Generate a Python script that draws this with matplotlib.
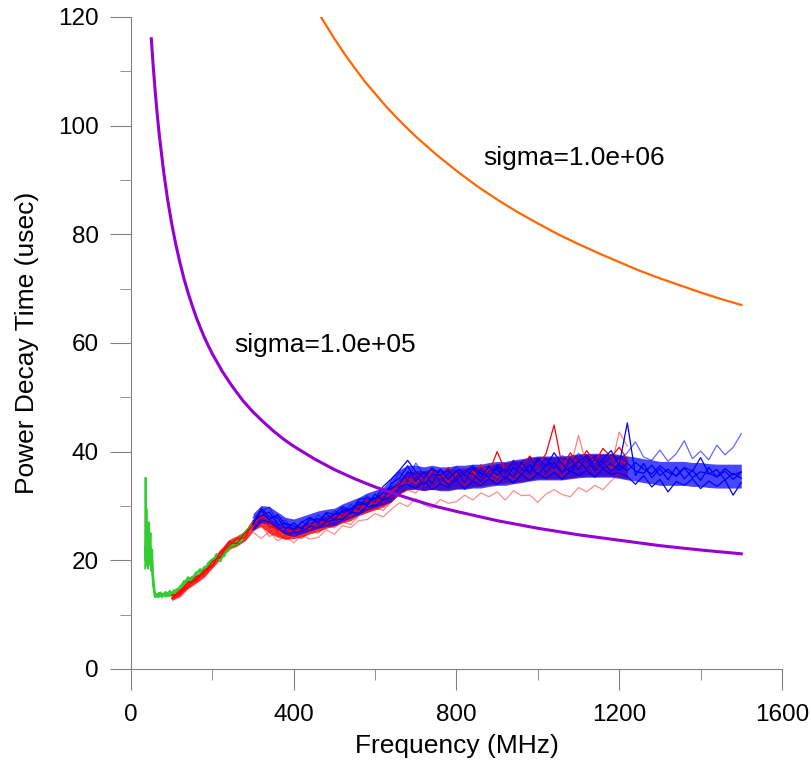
import matplotlib
matplotlib.use('Agg')
import matplotlib.pyplot as plt
import numpy as np

plt.rcParams['font.family'] = ['Liberation Sans', 'DejaVu Sans']

# model curves
purple_f = [50, 55, 60, 65, 70, 80, 90, 100, 110, 120, 130, 140, 150, 160, 170, 180,
            190, 200, 225, 250, 275, 300, 325, 350, 375, 400, 450, 500, 550, 600, 650,
            700, 750, 800, 900, 1000, 1100, 1200, 1300, 1400, 1500]
purple_tau = [116.0, 110.6, 105.9, 101.7, 98.0, 91.7, 86.4, 82.0, 78.2, 74.9, 71.9,
              69.3, 67.0, 64.8, 62.9, 61.1, 59.5, 58.0, 54.7, 51.9, 49.4, 47.3, 45.5,
              43.8, 42.3, 41.0, 38.7, 36.7, 35.0, 33.5, 32.2, 31.0, 29.9, 29.0, 27.3,
              25.9, 24.7, 23.7, 22.7, 21.9, 21.2]
orange_f = [467, 480, 500, 525, 550, 575, 600, 625, 650, 675, 700, 750, 800, 850, 900,
            950, 1000, 1050, 1100, 1150, 1200, 1250, 1300, 1350, 1400, 1450, 1500]
orange_tau = [120.0, 118.4, 116.0, 113.2, 110.6, 108.1, 105.9, 103.7, 101.7, 99.8,
              98.0, 94.7, 91.7, 88.9, 86.4, 84.1, 82.0, 80.0, 78.2, 76.5, 74.9, 73.3,
              71.9, 70.6, 69.3, 68.1, 67.0]

# green measurements
green_f = [35, 36, 37, 38, 39, 40, 42, 44, 46, 48, 50, 52, 54, 56, 58, 60, 64, 68, 72,
           76, 80, 85, 90, 95, 100, 105, 110, 120, 130, 140, 150, 160, 170, 180, 190,
           200, 210, 220, 230, 240, 250, 260, 270, 280, 290, 300]
green_1 = [20.0, 35.2, 21.5, 29.5, 22.0, 26.5, 21.0, 27.0, 22.5, 25.0, 19.0, 22.0, 17.5,
           16.0, 14.5, 13.6, 13.3, 14.0, 13.4, 13.9, 13.5, 14.2, 13.7, 14.4, 13.9, 14.5,
           14.0, 15.2, 15.8, 16.6, 16.2, 17.5, 18.4, 17.8, 19.6, 20.2, 20.6, 19.8, 21.6,
           22.4, 23.5, 22.6, 24.4, 25.2, 26.0, 27.0]
green_2 = [18.5, 24.0, 28.5, 19.5, 25.5, 20.0, 24.5, 19.5, 23.5, 19.0, 21.5, 18.0, 16.5,
           14.5, 13.5, 13.2, 13.8, 13.2, 13.8, 13.2, 13.9, 13.3, 14.0, 13.4, 14.1, 13.6,
           14.6, 14.8, 16.2, 16.0, 17.0, 17.0, 17.6, 18.8, 19.0, 19.5, 21.2, 20.5, 20.8,
           22.8, 22.4, 23.4, 23.8, 24.6, 25.6, 26.4]
green_3 = [22.5, 20.5, 25.0, 23.5, 19.0, 23.0, 18.5, 22.5, 19.5, 22.0, 18.0, 19.5, 15.5,
           15.0, 14.0, 13.9, 13.5, 13.6, 14.1, 13.5, 13.6, 13.9, 13.4, 13.8, 13.5, 14.2,
           14.3, 15.0, 15.5, 16.9, 16.5, 17.8, 18.0, 18.2, 19.3, 19.8, 20.0, 21.0, 21.3,
           21.8, 23.0, 23.8, 23.2, 24.9, 25.4, 26.8]

# red measurements, 100..1220 MHz every 20 MHz
red_f = np.arange(100, 1221, 20)
red_lo = [12.6, 13.3, 14.8, 15.8, 16.9, 18.6, 20.2, 22.0, 22.6, 23.6,
          25.5, 26.2, 25.0, 24.3, 23.9, 24.0, 24.3, 24.9, 25.3, 25.9,
          26.3, 26.9, 27.3, 28.3, 28.8, 29.3, 29.8, 30.8, 32.2, 33.0,
          33.1, 32.9, 33.1, 33.0, 33.0, 33.2, 33.3, 33.5, 33.6, 33.9,
          34.0, 34.2, 34.3, 34.5, 34.8, 35.0, 35.0, 35.0, 35.0, 35.2,
          35.4, 35.5, 35.5, 35.5, 35.5, 35.3, 35.0]
red_hi = [14.0, 14.8, 16.3, 17.3, 18.5, 20.4, 22.0, 23.8, 24.5, 25.4,
          27.6, 28.7, 27.8, 26.8, 26.3, 26.1, 26.6, 27.1, 27.7, 28.2,
          28.7, 29.3, 29.8, 30.8, 31.4, 31.8, 32.3, 33.4, 35.0, 36.2,
          36.5, 36.5, 36.8, 36.6, 36.6, 36.9, 37.0, 37.2, 37.3, 37.6,
          37.8, 38.0, 38.2, 38.5, 38.8, 39.0, 39.0, 39.0, 39.0, 39.2,
          39.4, 39.5, 39.5, 39.5, 39.5, 39.3, 39.0]
red_a = [13.0, 14.2, 15.9, 16.3, 18.2, 19.0, 21.4, 22.6, 23.9, 24.2,
         26.9, 27.9, 26.2, 26.0, 24.8, 25.6, 25.2, 26.6, 26.1, 27.4,
         27.2, 28.5, 28.1, 30.0, 29.6, 31.2, 30.8, 32.6, 33.8, 35.2,
         34.1, 35.8, 34.6, 36.0, 34.4, 35.9, 34.7, 36.4, 35.1, 36.6,
         35.3, 37.0, 35.6, 37.4, 36.0, 38.2, 36.4, 37.9, 36.6, 38.3,
         36.8, 38.6, 37.0, 38.2, 36.9, 38.4, 37.6]
red_b = [13.6, 13.8, 15.2, 17.0, 17.6, 19.8, 20.6, 23.4, 23.1, 25.0,
         26.2, 28.4, 27.0, 25.4, 25.9, 24.9, 26.3, 25.8, 27.2, 26.7,
         28.3, 27.8, 29.3, 28.9, 31.0, 30.4, 32.1, 31.6, 34.4, 33.9,
         35.9, 34.3, 36.5, 35.3, 37.1, 35.0, 36.8, 35.5, 37.6, 36.2,
         40.0, 36.5, 38.4, 36.9, 39.2, 37.4, 39.6, 44.9, 37.2, 39.8,
         37.6, 40.2, 38.0, 40.6, 39.0, 40.8, 38.6]
red_c = [13.2, 14.5, 15.0, 16.8, 17.2, 19.2, 20.8, 22.2, 22.8, 23.6,
         25.2, 24.0, 25.3, 23.6, 24.4, 23.2, 24.6, 23.9, 24.2, 25.6,
         24.8, 26.4, 26.0, 27.3, 27.5, 28.6, 28.0, 29.4, 30.6, 29.9,
         31.4, 30.2, 29.6, 31.2, 30.5, 30.8, 32.0, 31.1, 32.4, 31.7,
         32.6, 31.1, 32.8, 31.9, 32.0, 30.7, 32.2, 33.0, 32.1, 31.7,
         33.4, 32.6, 33.8, 33.0, 34.6, 36.0, 35.2]
red_d = [12.9, 13.6, 16.1, 16.0, 18.0, 18.8, 21.8, 22.9, 24.1, 24.8,
         27.3, 26.4, 24.4, 25.1, 23.8, 24.6, 24.0, 25.4, 25.0, 26.3,
         26.0, 27.1, 26.6, 28.2, 28.8, 29.6, 29.2, 30.7, 32.2, 33.0,
         32.4, 34.0, 33.2, 34.6, 33.5, 34.8, 33.8, 35.2, 34.1, 35.6,
         34.4, 35.9, 34.8, 36.3, 35.1, 36.6, 35.2, 36.8, 35.6, 37.0,
         43.0, 37.4, 36.2, 37.8, 37.0, 43.6, 41.0]

# blue measurements, 300..1500 MHz every 20 MHz
blue_f = np.arange(300, 1501, 20)
blue_lo = [25.4, 26.9, 26.7, 25.7, 24.7, 24.4, 24.9, 25.4, 25.9, 26.2,
           26.4, 27.2, 27.8, 28.4, 29.2, 29.7, 30.2, 30.8, 32.3, 33.1,
           33.1, 32.8, 33.1, 32.8, 32.8, 33.1, 33.1, 33.3, 33.3, 33.6,
           33.8, 33.8, 34.1, 34.3, 34.6, 34.8, 34.8, 34.8, 34.8, 35.0,
           35.2, 35.3, 35.3, 35.3, 35.3, 35.1, 34.8, 34.6, 34.3, 34.1,
           33.8, 33.8, 33.8, 33.8, 33.6, 33.6, 33.4, 33.3, 33.3, 33.3,
           33.3]
blue_hi = [28.6, 30.1, 29.9, 28.9, 27.9, 27.6, 28.1, 28.6, 29.1, 29.4,
           29.6, 30.4, 31.0, 31.6, 32.4, 32.9, 33.4, 35.2, 36.7, 37.5,
           37.5, 37.2, 37.5, 37.2, 37.2, 37.5, 37.5, 37.7, 37.7, 38.0,
           38.2, 38.2, 38.5, 38.7, 39.0, 39.2, 39.2, 39.2, 39.2, 39.4,
           39.6, 39.7, 39.7, 39.7, 39.7, 39.5, 39.2, 39.0, 38.7, 38.5,
           38.2, 38.2, 38.2, 38.2, 38.0, 38.0, 37.8, 37.7, 37.7, 37.7,
           37.7]
blue_1 = [26.5, 29.6, 28.0, 27.9, 25.8, 26.9, 25.7, 27.8, 26.9, 28.6,
          27.3, 29.5, 28.7, 30.8, 30.1, 32.2, 31.0, 34.2, 35.1, 37.4,
          34.6, 36.3, 34.2, 36.8, 34.9, 36.5, 34.4, 37.0, 35.2, 37.3,
          35.6, 36.9, 35.4, 38.1, 36.0, 38.4, 36.2, 37.9, 36.1, 38.6,
          36.7, 38.9, 36.3, 38.2, 36.4, 37.6, 45.3, 35.6, 37.8, 35.2,
          36.9, 34.8, 37.2, 35.0, 36.6, 34.7, 37.1, 35.3, 36.4, 34.9,
          36.2]
blue_2 = [27.8, 28.9, 29.8, 27.0, 27.4, 25.3, 27.2, 26.1, 28.4, 27.0,
          29.1, 28.2, 30.3, 29.4, 31.9, 30.6, 32.8, 33.6, 36.2, 34.8,
          37.9, 35.7, 36.8, 34.3, 36.1, 37.2, 35.8, 34.6, 36.8, 35.1,
          37.6, 35.8, 37.9, 36.6, 39.0, 37.4, 38.8, 36.9, 39.3, 37.8,
          39.7, 38.0, 39.1, 37.6, 39.4, 38.6, 39.8, 41.8, 39.0, 38.4,
          40.3, 38.2, 39.6, 42.0, 38.7, 40.1, 38.5, 41.2, 39.4, 40.8,
          43.3]
blue_3 = [25.6, 27.4, 27.1, 26.0, 24.9, 25.1, 25.3, 26.3, 26.0, 27.1,
          27.5, 27.6, 28.9, 28.6, 29.9, 30.0, 31.1, 31.8, 33.6, 34.0,
          33.2, 34.6, 33.0, 34.1, 33.4, 34.8, 33.1, 34.5, 33.8, 35.0,
          34.0, 35.4, 34.2, 35.9, 34.7, 36.0, 35.1, 36.2, 34.9, 36.5,
          35.6, 36.6, 35.3, 36.8, 35.8, 36.1, 35.4, 34.0, 35.6, 33.5,
          34.9, 32.6, 34.5, 33.8, 35.0, 33.2, 34.6, 33.6, 34.8, 32.0,
          34.3]
blue_4 = [27.2, 28.2, 28.9, 26.6, 26.8, 26.3, 26.0, 27.4, 27.6, 27.4,
          28.4, 29.0, 29.5, 30.2, 30.6, 31.5, 32.4, 33.3, 34.0, 36.3,
          35.8, 33.9, 35.8, 35.6, 33.8, 35.4, 36.6, 35.8, 34.5, 36.4,
          36.8, 34.9, 37.1, 35.8, 37.6, 35.7, 37.5, 38.0, 36.4, 37.0,
          38.3, 36.8, 38.6, 36.9, 37.8, 36.6, 37.9, 36.4, 36.0, 37.5,
          35.6, 36.8, 35.4, 37.0, 35.2, 36.3, 35.9, 36.7, 34.8, 36.0,
          35.1]
blue_5 = [26.8, 29.2, 27.5, 28.4, 26.6, 25.7, 27.0, 27.9, 27.1, 28.8,
          28.5, 29.9, 29.1, 31.2, 31.5, 31.2, 33.6, 35.0, 36.6, 38.4,
          36.3, 35.2, 37.0, 35.6, 36.7, 34.9, 36.1, 37.4, 36.0, 35.3,
          37.2, 36.4, 38.3, 37.0, 36.1, 38.8, 37.3, 39.8, 37.7, 36.2,
          38.1, 39.4, 37.0, 38.6, 40.2, 37.4, 36.5, 38.0, 36.8, 35.9,
          37.4, 36.2, 35.6, 37.1, 36.4, 38.9, 36.0, 35.4, 36.9, 35.7,
          36.3]

fig = plt.figure(figsize=(8.12, 7.65), dpi=100)
ax = fig.add_axes([0.1613, 0.1255, 0.8017, 0.8523])

green = '#33CC33'
for g in (green_1, green_2, green_3):
    ax.plot(green_f, g, color=green, lw=1.4)

ax.fill_between(red_f, red_lo, red_hi, color='red', alpha=0.8, lw=0)
ax.plot(red_f, red_c, color='red', lw=0.9, alpha=0.45)
ax.plot(red_f, red_d, color='red', lw=0.9, alpha=0.5)
ax.fill_between(blue_f, blue_lo, blue_hi, color='blue', alpha=0.72, lw=0)
ax.plot(red_f, red_a, color='red', lw=0.9)
ax.plot(red_f, red_b, color='red', lw=0.9)
ax.plot(blue_f, blue_2, color='blue', lw=0.9, alpha=0.6)
for b in (blue_1, blue_3, blue_4, blue_5):
    ax.plot(blue_f, b, color='blue', lw=0.9)

ax.plot(purple_f, purple_tau, color='#9600D2', lw=2.2)
ax.plot(orange_f, orange_tau, color='#FF6600', lw=1.6)

ax.text(253, 59.6, 'sigma=1.0e+05', fontsize=19, va='center')
ax.text(865, 94, 'sigma=1.0e+06', fontsize=19, va='center')

ax.set_xlim(0, 1600)
ax.set_ylim(0, 120)
ax.set_xticks([0, 400, 800, 1200, 1600])
ax.set_xticks([200, 600, 1000, 1400], minor=True)
ax.set_yticks(range(0, 121, 20))
ax.set_yticks(range(10, 120, 20), minor=True)
for s in ('top', 'right'):
    ax.spines[s].set_visible(False)
for s in ('left', 'bottom'):
    ax.spines[s].set_color('#808080')
ax.tick_params(which='major', direction='out', length=15, color='#808080',
               labelsize=17.5)
ax.tick_params(axis='x', which='major', pad=10)
ax.tick_params(axis='y', which='major', pad=8)
ax.tick_params(which='minor', direction='out', length=8, color='#808080')
ax.set_xlabel('Frequency (MHz)', fontsize=19, labelpad=6)
ax.set_ylabel('Power Decay Time (usec)', fontsize=19, labelpad=14)

fig.savefig('out.png', dpi=100)
